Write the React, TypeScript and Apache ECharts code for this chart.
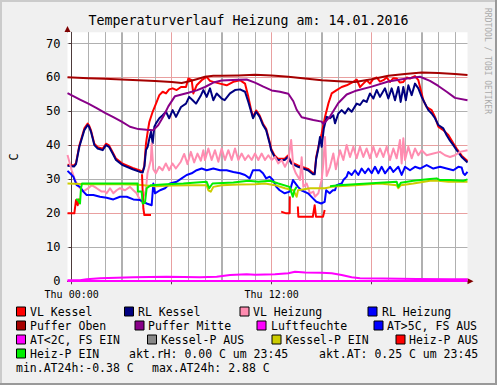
import React, { useEffect, useRef } from "react";
import * as echarts from "echarts";

type Pt = [number, number | null];

const chartTitle = "Temperaturverlauf Heizung am: 14.01.2016";
const xLabelValues = [0, 12];
const xLabelTexts = ["Thu 00:00", "Thu 12:00"];
const yLabelValues = [0, 10, 20, 30, 40, 50, 60, 70];
const yUnit = "C";
const watermark = "RRDTOOL / TOBI OETIKER";

const seriesNames = [
  "VL Kessel", "RL Kessel", "VL Heizung", "RL Heizung",
  "Puffer Oben", "Puffer Mitte", "Luftfeuchte", "AT>5C, FS AUS",
  "AT<2C, FS EIN", "Kessel-P AUS", "Kessel-P EIN", "Heiz-P AUS",
  "Heiz-P EIN",
];
const seriesColors = [
  "#FF0000", "#000080", "#FF8CB0", "#0000FF",
  "#A50000", "#880088", "#FF00FF", "#0000FF",
  "#FF00FF", "#888888", "#CCCC00", "#FF0000",
  "#00EE00",
];
const footerLines = [
  "akt.rH: 0.00 C um 23:45",
  "akt.AT: 0.25 C um 23:45",
  "min.AT24h:-0.38 C",
  "max.AT24h: 2.88 C",
];

const vlKessel: Pt[] = [[-0.25,34.3],[0.14,34.1],[0.26,34.8],[0.46,40.0],[0.76,45.0],[0.96,46.4],[1.04,45.9],[1.16,44.4],[1.36,40.5],[1.56,39.5],[1.86,39.0],[2.06,40.5],[2.24,40.0],[2.46,38.0],[2.66,36.1],[3.06,34.6],[3.66,33.4],[4.1,32.6],[4.26,32.3],[4.36,34.0],[4.46,40.6],[4.56,44.0],[4.66,46.9],[4.86,49.9],[5.06,52.3],[5.26,54.8],[5.46,55.8],[5.66,55.3],[5.85,56.5],[6.06,56.8],[6.3,56.3],[6.56,57.2],[6.86,57.2],[7.0,59.7],[7.2,59.2],[7.3,55.3],[7.5,57.7],[7.8,59.2],[8.1,60.2],[8.3,59.0],[8.5,58.7],[8.9,58.2],[9.3,57.7],[9.7,58.7],[10.1,59.2],[10.4,58.2],[10.6,54.3],[10.77,50.4],[10.88,48.4],[11.07,50.3],[11.28,48.8],[11.48,46.4],[11.67,44.9],[11.88,41.0],[11.97,39.0],[12.18,37.0],[12.38,36.1],[12.78,36.1],[12.98,37.0],[13.17,35.1],[13.58,34.1],[14.18,33.1],[14.48,31.9],[14.58,31.9],[14.67,36.5],[14.8,39.5],[15.0,43.5],[15.2,48.4],[15.4,52.3],[15.6,55.3],[15.9,56.3],[16.2,57.2],[16.5,57.7],[16.9,58.7],[17.1,59.4],[17.3,57.2],[17.5,58.2],[17.7,59.2],[17.9,58.2],[18.1,59.6],[18.3,60.0],[18.5,58.8],[18.7,59.2],[18.9,60.0],[19.1,58.7],[19.3,59.8],[19.5,59.7],[19.7,58.5],[19.9,58.7],[20.1,60.0],[20.3,59.7],[20.6,60.4],[20.8,59.2],[21.0,55.3],[21.1,53.3],[21.3,51.3],[21.6,50.4],[21.8,48.4],[22.0,45.5],[22.3,44.5],[22.6,43.1],[22.9,40.6],[23.1,39.1],[23.4,37.0],[23.75,35.4]];

const rlKessel: Pt[] = [[-0.25,34.0],[0.14,33.8],[0.26,34.5],[0.46,39.6],[0.76,44.5],[0.96,46.0],[1.04,45.5],[1.16,44.0],[1.36,40.1],[1.56,39.1],[1.86,38.6],[2.06,40.1],[2.24,39.6],[2.46,37.6],[2.66,35.7],[3.06,34.2],[3.66,33.0],[4.1,32.2],[4.26,32.0],[4.36,33.7],[4.46,38.6],[4.56,39.6],[4.66,42.0],[4.76,44.0],[4.86,40.6],[4.96,45.5],[5.06,46.5],[5.26,48.0],[5.46,48.9],[5.66,49.9],[5.85,48.0],[6.06,50.4],[6.26,48.4],[6.56,51.3],[6.86,52.3],[7.05,54.3],[7.26,53.3],[7.46,52.3],[7.76,54.8],[7.9,56.3],[8.1,54.3],[8.3,56.8],[8.5,53.3],[8.7,55.3],[9.0,53.8],[9.18,53.3],[9.5,55.3],[9.8,56.3],[10.1,56.5],[10.4,55.8],[10.6,52.8],[10.77,49.9],[10.88,48.0],[11.07,49.9],[11.28,48.4],[11.48,46.0],[11.67,44.5],[11.88,40.6],[11.97,38.6],[12.18,36.6],[12.38,35.7],[12.78,35.7],[12.98,36.6],[13.17,34.7],[13.58,33.7],[14.18,32.7],[14.48,31.5],[14.58,31.5],[14.67,36.0],[14.8,39.1],[14.9,42.5],[15.0,39.6],[15.13,45.0],[15.3,48.4],[15.5,48.0],[15.7,48.9],[15.8,46.5],[16.0,49.4],[16.2,50.4],[16.4,49.4],[16.6,50.9],[16.8,49.9],[17.1,52.3],[17.3,51.9],[17.5,53.3],[17.7,52.8],[17.9,55.3],[18.1,53.8],[18.3,56.3],[18.5,54.3],[18.8,56.8],[19.0,53.8],[19.2,56.8],[19.4,53.3],[19.6,57.2],[19.74,52.8],[19.9,57.2],[20.05,53.3],[20.2,57.7],[20.4,54.8],[20.6,58.2],[20.8,56.8],[21.0,54.3],[21.2,52.3],[21.4,50.4],[21.6,49.4],[21.8,48.0],[22.0,46.0],[22.3,45.0],[22.5,43.0],[22.7,41.4],[22.9,40.1],[23.1,38.6],[23.4,36.6],[23.75,35.0]];

const vlHeizung: Pt[] = [[-0.25,37.2],[0.0,32.7],[0.2,29.8],[0.4,28.0],[0.7,26.5],[1.0,27.4],[1.2,28.3],[1.5,27.4],[1.8,26.4],[2.0,26.4],[2.1,25.9],[2.3,27.4],[2.5,25.9],[2.7,26.8],[2.9,27.4],[3.2,26.8],[3.5,27.8],[3.7,26.8],[3.9,25.9],[4.0,24.9],[4.2,23.4],[4.3,24.9],[4.45,26.8],[4.55,31.8],[4.75,35.7],[4.8,40.6],[4.9,33.0],[5.05,31.8],[5.25,33.7],[5.45,32.7],[5.65,34.7],[5.85,32.7],[6.05,34.7],[6.25,33.2],[6.55,35.2],[6.75,37.5],[6.95,34.5],[7.15,38.1],[7.35,35.0],[7.55,37.6],[7.75,35.5],[7.9,38.6],[8.0,35.7],[8.2,39.1],[8.4,35.7],[8.6,38.6],[8.8,35.2],[9.0,39.1],[9.2,35.7],[9.4,38.6],[9.6,35.7],[9.8,39.1],[10.0,35.7],[10.2,37.6],[10.4,35.7],[10.6,37.1],[10.8,35.7],[11.0,37.6],[11.2,35.7],[11.4,37.6],[11.6,35.7],[11.8,37.1],[12.0,35.7],[12.2,36.6],[12.4,34.7],[12.6,35.7],[12.8,33.7],[13.0,35.7],[13.17,41.6],[13.3,33.7],[13.45,31.8],[13.7,29.8],[13.8,36.5],[13.9,27.8],[14.1,28.8],[14.3,25.9],[14.5,26.4],[14.6,24.9],[14.8,25.9],[15.0,29.8],[15.1,34.7],[15.2,42.5],[15.3,31.0],[15.5,33.7],[15.7,37.6],[15.85,33.0],[16.1,38.6],[16.3,35.7],[16.5,40.1],[16.7,36.6],[16.9,39.6],[17.1,36.2],[17.3,39.6],[17.5,36.6],[17.7,39.1],[17.9,36.2],[18.1,39.6],[18.3,36.6],[18.5,39.1],[18.7,36.6],[18.9,39.6],[19.1,35.7],[19.3,39.1],[19.5,36.2],[19.7,41.6],[19.8,34.7],[19.9,42.1],[20.0,35.7],[20.2,39.6],[20.4,36.2],[20.6,39.1],[20.8,37.1],[21.0,38.6],[21.3,37.1],[21.7,37.6],[22.1,38.1],[22.4,37.1],[22.7,36.6],[23.0,37.1],[23.3,38.1],[23.75,38.6]];

const rlHeizung: Pt[] = [[-0.25,32.5],[-0.1,31.8],[0.1,30.8],[0.3,28.3],[0.5,27.8],[0.7,26.4],[0.9,25.4],[1.3,25.4],[1.7,24.9],[2.1,24.6],[2.5,24.1],[2.9,24.9],[3.3,24.9],[3.7,24.1],[4.1,23.9],[4.5,22.9],[4.8,22.4],[4.9,28.8],[5.0,25.9],[5.3,26.8],[5.6,27.4],[5.9,28.8],[6.3,29.3],[6.6,30.3],[6.9,31.3],[7.2,31.8],[7.5,32.7],[7.8,33.2],[8.1,32.7],[8.5,33.2],[8.9,32.7],[9.3,32.7],[9.7,32.2],[10.1,31.8],[10.4,31.3],[10.68,30.3],[10.88,32.7],[11.28,32.7],[11.48,31.8],[11.67,30.3],[11.88,30.8],[12.08,29.8],[12.28,27.8],[12.48,26.8],[12.78,25.9],[13.08,26.4],[13.28,29.8],[13.58,27.8],[13.78,26.8],[14.18,25.9],[14.48,24.4],[14.68,23.4],[14.97,22.9],[15.18,23.4],[15.27,26.8],[15.48,25.9],[15.67,26.8],[15.8,26.8],[15.9,28.3],[16.2,28.8],[16.3,29.8],[16.5,30.8],[16.6,32.2],[16.8,31.3],[17.0,32.7],[17.2,31.3],[17.4,33.2],[17.6,31.8],[17.8,33.2],[18.0,31.8],[18.2,33.7],[18.4,31.8],[18.6,33.7],[18.8,31.8],[19.1,33.7],[19.3,32.2],[19.6,33.7],[19.8,31.3],[20.0,33.7],[20.3,32.7],[20.6,33.7],[20.9,33.2],[21.3,34.2],[21.7,33.2],[22.1,33.7],[22.5,33.2],[22.9,32.7],[23.2,33.7],[23.4,33.5],[23.5,31.8],[23.6,31.3],[23.75,32.2]];

const pufferOben: Pt[] = [[-0.25,60.1],[1,59.8],[2,59.6],[3,59.4],[4,59.2],[5,59.0],[6,58.7],[6.6,58.4],[7,58.8],[7.5,59.5],[8,60.2],[8.5,60.5],[9,60.5],[10,60.6],[11,60.8],[12,60.6],[13,60.2],[14,59.7],[15,59.2],[16,58.9],[17,58.7],[18,59.5],[19,60.5],[20,61.0],[21,61.5],[22,61.3],[23,61.0],[23.75,60.7]];

const pufferMitte: Pt[] = [[-0.25,55.4],[0.5,53.5],[1,52.3],[1.5,51.0],[2,49.6],[2.5,48.3],[3,47.0],[3.5,45.5],[4,44.8],[4.5,44.6],[4.9,44.5],[5.2,46.0],[5.5,48.5],[5.8,51.5],[6.2,54.5],[7,55.5],[7.5,56.2],[8,57.2],[8.5,58.5],[9,59.1],[10,59.3],[10.5,59.4],[11,58.5],[11.5,57.3],[12,56.2],[12.5,55.8],[13,55.2],[13.3,53.0],[13.5,50.5],[13.8,48.3],[14.5,47.5],[15,47.0],[15.1,46.3],[15.5,48.5],[16,52.5],[16.5,55.0],[17,56.0],[18,57.3],[19,58.8],[20,59.6],[20.9,60.2],[21.5,59.0],[22,57.5],[22.5,55.8],[23,54.0],[23.75,53.3]];

const luftfeuchte: Pt[] = [[-0.25,0.1],[12,0.1],[23.75,0.1]];
const atOver5: Pt[] = [];
const atUnder2: Pt[] = [[-0.25,0.3],[0.5,0.3],[0.9,0.6],[1.7,0.9],[3.7,1.2],[5.7,1.35],[7.7,1.2],[8.7,1.35],[9.5,1.85],[10.5,2.1],[11,1.9],[12.2,2.1],[13.0,2.35],[13.4,2.8],[14.0,2.6],[15.0,2.5],[15.6,2.35],[16.2,1.85],[16.8,1.2],[17.3,0.9],[18.7,0.8],[20.7,0.7],[22.7,0.6],[23.75,0.6]];
const kesselPAus: Pt[] = [];
const kesselPEin: Pt[] = [[-0.25,28.8],[1,28.6],[2,28.6],[3,28.6],[4,28.4],[4.3,28.3],[5,28.0],[6,28.2],[7,28.3],[8.1,28.3],[8.2,26.8],[8.35,26.4],[8.5,27.8],[9,28.3],[10,28.5],[11,28.6],[11.6,28.8],[12.2,28.3],[12.8,27.4],[13.3,26.8],[13.5,24.9],[13.58,26.8],[14.3,27.4],[15.2,27.4],[15.6,27.8],[16,28.0],[17,28.3],[18.5,28.8],[19.5,28.3],[19.6,27.4],[19.75,28.3],[20.5,28.8],[21.5,29.6],[22,29.6],[22.6,29.3],[23.75,29.3]];
const heizPAus: Pt[] = [[-0.25,20],[0.16,20],[0.26,23.9],[0.36,22.4],[0.46,24.4],[0.5,null],[4.22,31.5],[4.3,21.5],[4.36,19.5],[4.76,19.5],[4.8,null],[12.57,20.5],[12.87,20],[13.08,20],[13.09,25],[13.12,null],[13.57,22],[13.6,19],[14.47,19],[14.58,22.4],[14.66,19],[15.08,19],[15.18,21],[15.2,null]];
const heizPEin: Pt[] = [[0.26,24.1],[0.36,24.1],[0.5,22.9],[0.56,27.4],[0.62,28.8],[1.5,28.8],[2.5,28.8],[3.5,28.8],[3.96,28.8],[3.97,26.4],[4.2,26.4],[4.26,22.9],[4.4,23.2],[4.5,27.4],[4.76,28.3],[5.7,28.6],[6.7,28.8],[8.1,29.3],[8.25,27.4],[8.45,28.8],[9.7,29.1],[10.6,29.6],[11.2,29.3],[11.9,29.6],[12.4,28.8],[13.08,27.8],[13.17,26.4],[13.27,24.9],[13.37,26.8],[13.5,27.8],[13.55,null],[15.5,28.0],[16.0,28.3],[17.0,28.6],[18.5,29.0],[19.5,29.3],[19.6,27.8],[19.75,29.0],[20.5,29.6],[21.5,30.1],[21.9,30.3],[22.1,29.8],[22.7,29.8],[23.5,29.6],[23.75,30.0]];

const seriesData: Pt[][] = [
  vlKessel, rlKessel, vlHeizung, rlHeizung,
  pufferOben, pufferMitte, luftfeuchte, atOver5,
  atUnder2, kesselPAus, kesselPEin, heizPAus,
  heizPEin,
];

const gridHours = [0,1,2,3,4,5,6,7,8,9,10,11,12,13,14,15,16,17,18,19,20,21,22,23];

const MONO = '"DejaVu Sans Mono", monospace';

export default function App() {
  const ref = useRef<HTMLDivElement>(null);
  useEffect(() => {
    if (!ref.current) return;
    const chart = echarts.init(ref.current, null, { renderer: "svg" });

    const minorGrid = "#B0B0B0";
    const majorGrid = "#E9A0A0";

    const legendPos: [number, number, number][] = [
      [16.5, 30, 311.5], [124.5, 138, 311.5], [240, 253, 311.5], [368, 382, 311.5],
      [16.5, 30, 325.5], [135, 148, 325.5], [257, 271, 325.5], [374, 387, 325.5],
      [16.5, 30, 339.5], [147.5, 161, 339.5], [272, 285.5, 339.5], [396, 409, 339.5],
      [16.5, 30, 353.5],
    ];
    const footerPos: [number, number][] = [[129, 353.5], [319, 353.5], [16, 367.5], [152, 367.5]];

    const txt = (x: number, y: number, text: string, font: string, fill: string, align: string, rotation = 0) => ({
      type: "text", x, y, rotation, silent: true,
      style: { text, font, fill, align, verticalAlign: "middle", textAlign: align, textVerticalAlign: "middle" },
    });

    const graphics: any[] = [
      { type: "rect", shape: { x: 0, y: 0, width: 497, height: 2 }, style: { fill: "#CBCBCB" }, silent: true },
      { type: "rect", shape: { x: 0, y: 0, width: 2, height: 385 }, style: { fill: "#CBCBCB" }, silent: true },
      { type: "rect", shape: { x: 495, y: 0, width: 2, height: 385 }, style: { fill: "#999999" }, silent: true },
      { type: "rect", shape: { x: 0, y: 383, width: 497, height: 2 }, style: { fill: "#999999" }, silent: true },
      { type: "line", shape: { x1: 67.5, y1: 32.3, x2: 67.5, y2: 28 }, style: { stroke: "#4d3b3b", lineWidth: 1 }, silent: true },
      { type: "polygon", shape: { points: [[64.5, 32], [70.5, 32], [67.5, 26]] }, style: { fill: "#7F0000" }, silent: true },
      { type: "polygon", shape: { points: [[467.5, 278.3], [467.5, 284.3], [473.5, 281.3]] }, style: { fill: "#7F0000" }, silent: true },
      txt(14, 157, yUnit, `12px ${MONO}`, "#000", "center", Math.PI / 2),
      txt(487, 61, watermark, `8px ${MONO}`, "#AAAAAA", "center", -Math.PI / 2),
    ];
    seriesNames.forEach((name, i) => {
      const [bx, tx, ry] = legendPos[i];
      graphics.push({
        type: "rect", silent: true,
        shape: { x: bx, y: ry - 4.5, width: 9, height: 9 },
        style: { fill: seriesColors[i], stroke: "#000", lineWidth: 1 },
      });
      graphics.push(txt(tx, ry, name, `11.5px ${MONO}`, "#000", "left"));
    });
    footerLines.forEach((t, i) => {
      const [fx, fy] = footerPos[i];
      graphics.push(txt(fx, fy, t, `11.5px ${MONO}`, "#000", "left"));
    });

    const series: any[] = [];
    seriesNames.forEach((name, i) => {
      series.push({
        type: "line", name, data: seriesData[i], showSymbol: false, symbol: "none",
        connectNulls: false, z: 2, silent: true,
        lineStyle: { color: seriesColors[i], width: 2, join: "round" },
        itemStyle: { color: seriesColors[i] },
        emphasis: { disabled: true },
      });
    });

    const hourColors = gridHours.map((h) => (h % 6 === 0 ? majorGrid : minorGrid));

    chart.setOption({
      animation: false,
      backgroundColor: "#F0F0F0",
      title: {
        text: chartTitle, left: "center", top: 9,
        textStyle: { fontFamily: MONO, fontSize: 13.3, fontWeight: "normal", color: "#000" },
      },
      grid: {
        left: 67.5, top: 32.3, right: 29.5, bottom: 103.7,
        show: true, backgroundColor: "#FFFFFF", borderWidth: 0,
        containLabel: false, outerBoundsMode: "none",
      },
      xAxis: [
        {
          type: "value", min: -0.25, max: 23.75,
          axisLine: { show: true, lineStyle: { color: "#4d3b3b", width: 1 } },
          axisTick: { show: true, length: 3, customValues: [0, 6, 12, 18], lineStyle: { color: "#4d3b3b" } },
          axisLabel: {
            show: true, customValues: xLabelValues, margin: 8,
            fontFamily: MONO, fontSize: 10, color: "#000",
            formatter: (v: number) => {
              const idx = xLabelValues.indexOf(v);
              return idx >= 0 ? xLabelTexts[idx] : "";
            },
          },
          splitLine: { show: false },
        },
        {
          type: "value", min: -0.25, max: 23.75, position: "top",
          axisLine: { show: false },
          axisTick: { show: false, customValues: gridHours },
          axisLabel: { show: false, customValues: gridHours },
          splitLine: { show: true, lineStyle: { color: hourColors, width: 1 } },
        },
      ],
      yAxis: {
        type: "value", min: 0, max: 73.3, interval: 5,
        axisLine: { show: true, lineStyle: { color: "#4d3b3b", width: 1 } },
        axisTick: { show: true, length: 3, customValues: yLabelValues, lineStyle: { color: "#4d3b3b" } },
        axisLabel: {
          show: true, customValues: yLabelValues, margin: 7,
          fontFamily: MONO, fontSize: 12, color: "#000",
          formatter: (v: number) => (yLabelValues.indexOf(v) >= 0 ? String(v) : ""),
        },
        splitLine: { show: true, lineStyle: { color: [majorGrid, minorGrid], width: 1 } },
      },
      graphic: graphics,
      series,
    });

    // hourly minor grid lines placed through the x axis scale
    const yBottom = chart.convertToPixel({ yAxisIndex: 0 }, 0) as number;
    const yTop = chart.convertToPixel({ yAxisIndex: 0 }, 73.3) as number;
    const hourLines = gridHours
      .filter((h) => h % 6 !== 0)
      .map((h) => {
        const px = chart.convertToPixel({ xAxisIndex: 0 }, h) as number;
        const x = Math.round(px) + 0.5;
        return {
          type: "line", silent: true, z: 1,
          shape: { x1: x, y1: yTop, x2: x, y2: yBottom },
          style: { stroke: minorGrid, lineWidth: 1 },
        };
      });
    chart.setOption({ graphic: [...graphics, ...hourLines] });

    return () => chart.dispose();
  }, []);
  return (
    <div
      ref={ref}
      style={{ position: "fixed", left: 0, top: 0, width: 497, height: 385, background: "#F0F0F0" }}
    />
  );
}
